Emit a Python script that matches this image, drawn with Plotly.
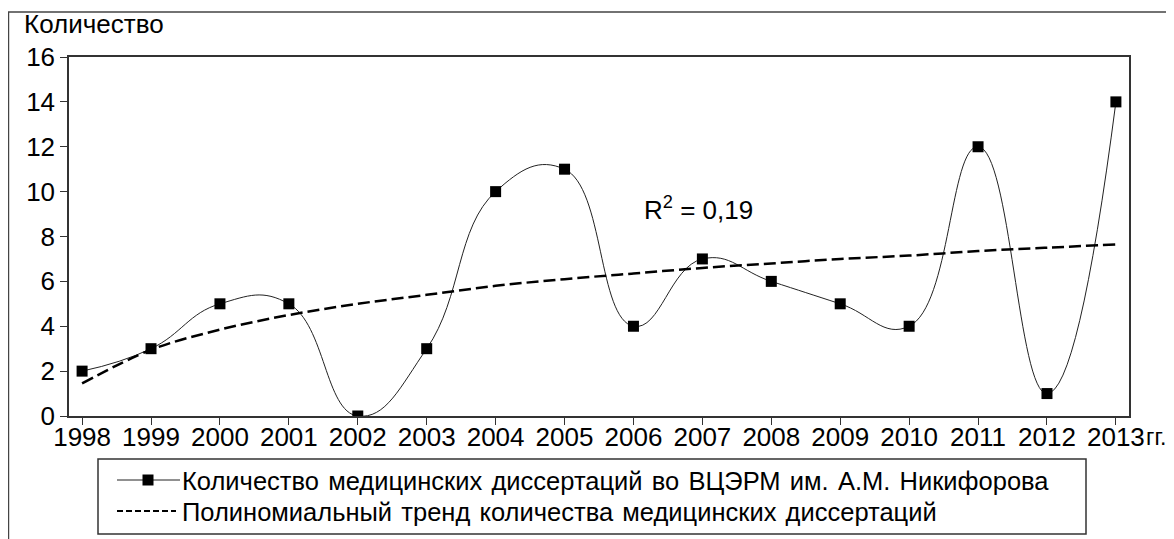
import plotly.graph_objects as go

years = list(range(1998, 2014))
counts = [2, 3, 5, 5, 0, 3, 10, 11, 4, 7, 6, 5, 4, 12, 1, 14]
trend = [1.45, 2.95, 3.85, 4.5, 5.0, 5.4, 5.8, 6.1, 6.35, 6.6, 6.8, 7.0, 7.15, 7.35, 7.5, 7.65]
y_ticks = [0, 2, 4, 6, 8, 10, 12, 14, 16]

SP = " \u200a"
name_main = SP.join("Количество медицинских диссертаций во ВЦЭРМ им. А.М. Никифорова".split(" "))
name_trend = SP.join("Полиномиальный тренд количества медицинских диссертаций".split(" "))

FONT = "Arial, Liberation Sans, sans-serif"
FS = 26
LFS = 25.5

# plot area in page pixels: x 69..1129, y 57..416
def px(x):
    return (x - 69) / 1060.0

def py(y):
    return (416 - y) / 359.0

ROW1, ROW2 = 480, 511

fig = go.Figure()
fig.add_trace(go.Scatter(
    x=years, y=counts, mode="lines+markers", name=name_main,
    line=dict(color="#222222", width=1, shape="spline", smoothing=1.3),
    marker=dict(symbol="square", size=11, color="black"),
))
fig.add_trace(go.Scatter(
    x=years, y=trend, mode="lines", name=name_trend,
    line=dict(color="black", width=2.5, dash="12px,5px", shape="spline"),
))

shapes = [
    # outer chart frame
    dict(type="rect", xref="paper", yref="paper",
         x0=-0.0571, x1=1.2, y0=-0.5, y1=1.1253,
         line=dict(color="#444444", width=1.5), layer="below"),
    # legend box
    dict(type="rect", xref="paper", yref="paper",
         x0=px(98), x1=px(1086), y0=py(534), y1=py(459),
         line=dict(color="#333333", width=1.5), fillcolor="white"),
    # legend symbol 1: line + square
    dict(type="line", xref="paper", yref="paper",
         x0=px(117), x1=px(180), y0=py(ROW1), y1=py(ROW1),
         line=dict(color="#222222", width=1)),
    dict(type="rect", xref="paper", yref="paper",
         x0=px(142.5), x1=px(153.5), y0=py(ROW1 + 5.5), y1=py(ROW1 - 5.5),
         line=dict(width=0), fillcolor="black"),
    # legend symbol 2: dashed line
    dict(type="line", xref="paper", yref="paper",
         x0=px(117), x1=px(176), y0=py(ROW2), y1=py(ROW2),
         line=dict(color="black", width=2, dash="6px,3px")),
]

fig.update_layout(
    width=1166, height=531,
    margin=dict(l=61, r=45, t=49, b=123, autoexpand=False),
    paper_bgcolor="white", plot_bgcolor="white",
    font=dict(family=FONT, size=FS, color="black"),
    showlegend=False,
    xaxis=dict(
        range=[1997.81, 2013.19], tickvals=years, ticktext=[str(y) for y in years],
        showgrid=False, zeroline=False, showline=True, linecolor="#333333", linewidth=1.5,
        mirror=True, ticks="outside", ticklen=7, tickcolor="#333333",
        ticklabelstandoff=-10,
        tickfont=dict(size=FS, family=FONT, color="black"),
    ),
    yaxis=dict(
        range=[0, 16], tickvals=y_ticks,
        showgrid=False, zeroline=False, showline=True, linecolor="#333333", linewidth=1.5,
        mirror=True, ticks="outside", ticklen=7, tickcolor="#333333",
        tickfont=dict(size=FS, family=FONT, color="black"),
    ),
    shapes=shapes,
    annotations=[
        dict(text="Количество", xref="paper", yref="paper", x=-0.0443, y=1.092,
             xanchor="left", yanchor="middle", showarrow=False,
             font=dict(size=FS, family=FONT, color="black")),
        dict(text="гг.", xref="paper", yref="paper", x=px(1144), y=py(437),
             xanchor="left", yanchor="middle", showarrow=False,
             font=dict(size=23, family=FONT, color="black")),
        dict(text="R<sup>2</sup> = 0,19", xref="x", yref="y", x=2006.13, y=9.27,
             xanchor="left", yanchor="middle", showarrow=False,
             font=dict(size=FS, family=FONT, color="black")),
        dict(text=name_main, xref="paper", yref="paper", x=px(181), y=py(ROW1 + 1),
             xanchor="left", yanchor="middle", showarrow=False, borderpad=0,
             font=dict(size=LFS, family=FONT, color="black")),
        dict(text=name_trend, xref="paper", yref="paper", x=px(181), y=py(ROW2 + 1),
             xanchor="left", yanchor="middle", showarrow=False, borderpad=0,
             font=dict(size=LFS, family=FONT, color="black")),
    ],
)

fig.write_html("out.html")
